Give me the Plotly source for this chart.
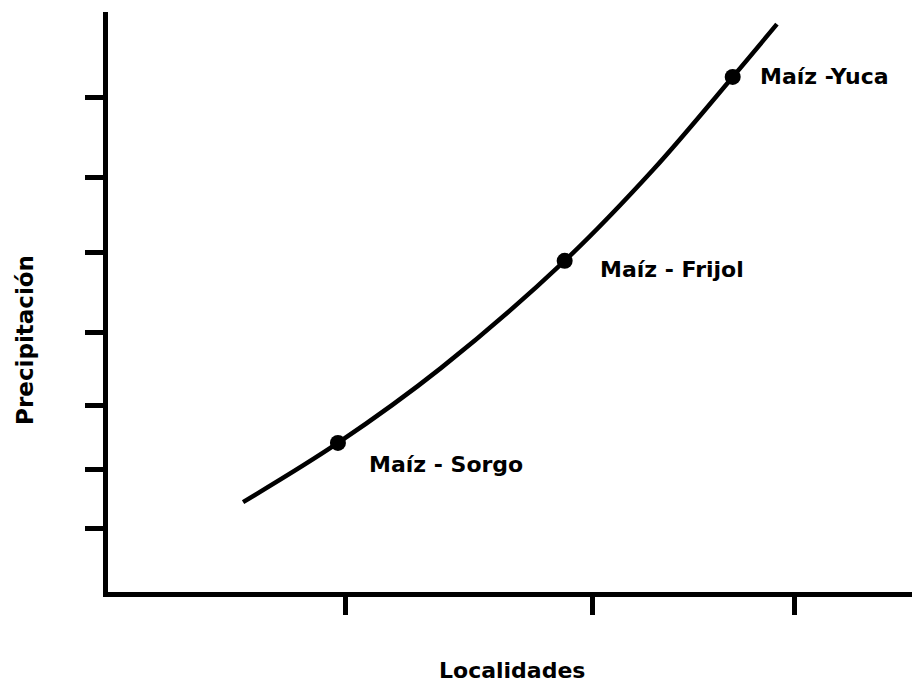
import plotly.graph_objects as go

# Curve (arbitrary units, 0-100 on each axis)
curve_x = [16.8, 28.6, 41.4, 56.8, 67.8, 77.7, 83.2]
curve_y = [15.5, 25.7, 38.6, 57.1, 72.8, 88.8, 97.9]

# Labelled systems
point_names = ["Maíz - Sorgo", "Maíz - Frijol", "Maíz -Yuca"]
point_x = [28.6, 56.8, 77.7]
point_y = [25.7, 57.1, 88.8]

# Tick positions (no labels in the original)
x_ticks = [29.6, 60.3, 85.4]
y_ticks = [11.0, 21.2, 32.1, 44.8, 58.6, 71.4, 85.2]

x_title = "Localidades"
y_title = "Precipitación"

FONT = "DejaVu Sans"

fig = go.Figure()
fig.add_trace(go.Scatter(
    x=curve_x, y=curve_y, mode="lines",
    line=dict(color="black", width=4.5, shape="spline", smoothing=1.0),
    hoverinfo="skip", showlegend=False,
))
fig.add_trace(go.Scatter(
    x=point_x, y=point_y, mode="markers",
    marker=dict(color="black", size=16),
    showlegend=False,
))

label_offsets = [(29, -22), (33, -9), (25, 0)]
for name, px, py, (ax, ay) in zip(point_names, point_x, point_y, label_offsets):
    fig.add_annotation(
        x=px, y=py, text="<b>" + name + "</b>", showarrow=False,
        xanchor="left", yanchor="middle", xshift=ax, yshift=ay,
        font=dict(family=FONT, size=22, color="black"),
    )

fig.add_annotation(
    x=0.503, y=-0.136, xref="paper", yref="paper", text="<b>" + x_title + "</b>",
    showarrow=False, xanchor="center", yanchor="middle",
    font=dict(family=FONT, size=22, color="black"),
)
fig.add_annotation(
    x=-0.103, y=0.435, xref="paper", yref="paper", text="<b>" + y_title + "</b>",
    showarrow=False, textangle=-90, xanchor="center", yanchor="middle",
    font=dict(family=FONT, size=23, color="black"),
)

fig.update_xaxes(
    range=[0, 100], showgrid=False, zeroline=False,
    showline=True, linecolor="black", linewidth=5,
    ticks="outside", tickvals=x_ticks, ticklen=18, tickwidth=5, tickcolor="black",
    showticklabels=False, fixedrange=True,
)
fig.update_yaxes(
    range=[0, 100], showgrid=False, zeroline=False,
    showline=True, linecolor="black", linewidth=5,
    ticks="outside", tickvals=y_ticks, ticklen=18, tickwidth=5, tickcolor="black",
    showticklabels=False, fixedrange=True,
)
fig.update_layout(
    width=915, height=685,
    margin=dict(l=108, r=3, t=12, b=93),
    plot_bgcolor="white", paper_bgcolor="white",
    showlegend=False,
)

fig.write_html(
    "out.html",
    config={"displayModeBar": False},
    post_script="document.body.style.margin='0';",
)
